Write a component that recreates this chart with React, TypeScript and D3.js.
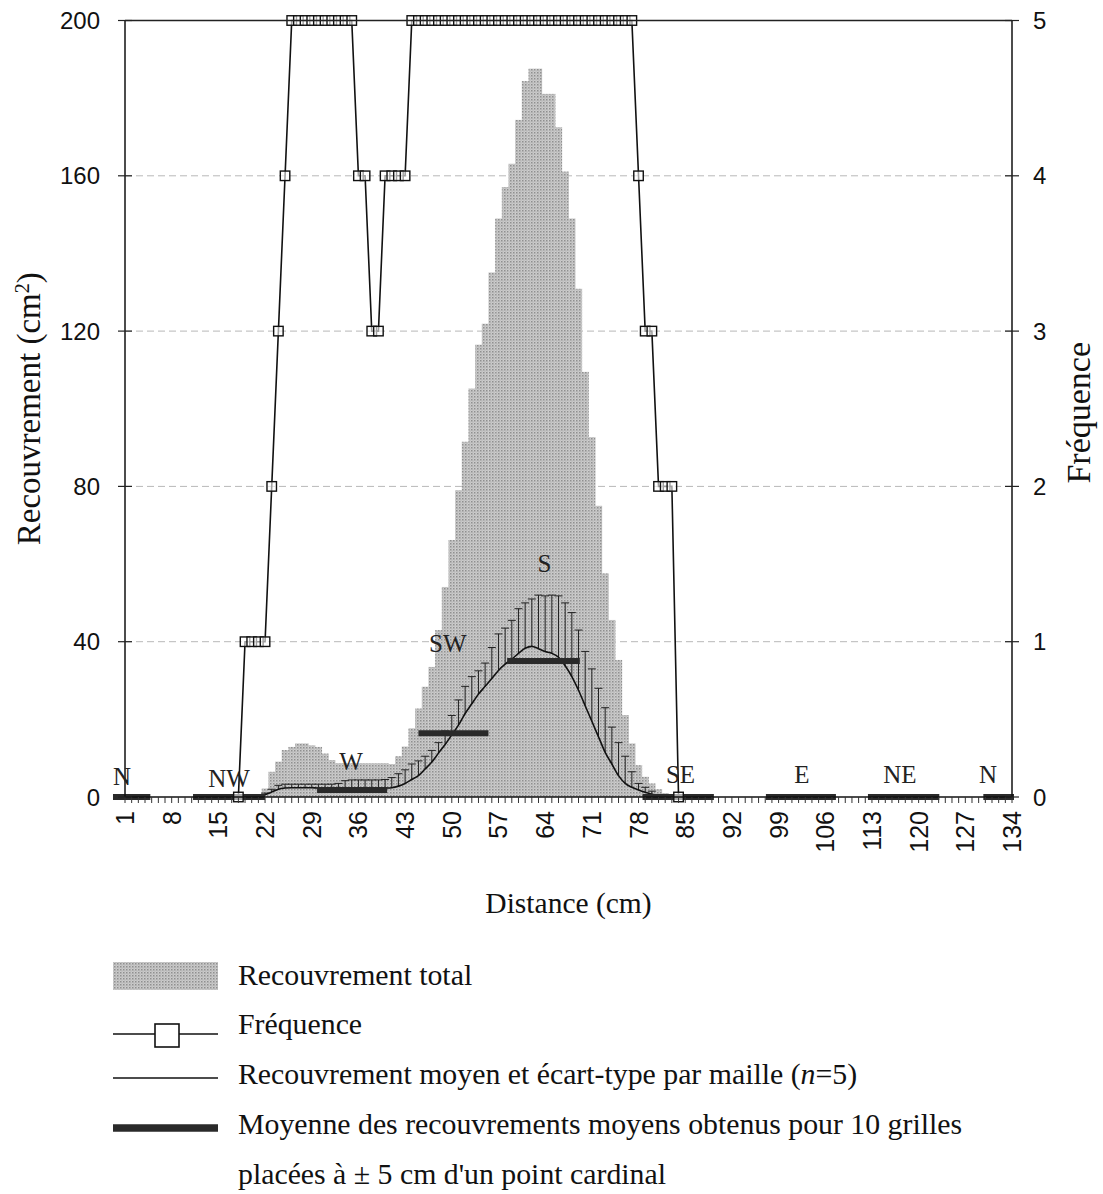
import React from "react";
import * as d3 from "d3";

// ---------- data ----------
const categories: number[] = d3.range(1, 135);
const xTickLabels = [1, 8, 15, 22, 29, 36, 43, 50, 57, 64, 71, 78, 85, 92, 99, 106, 113, 120, 127, 134];
const leftTicks = [0, 40, 80, 120, 160, 200];
const rightTicks = [0, 1, 2, 3, 4, 5];

// Recouvrement total (cm2), per cm, starting at cm 21
const totalStart = 21;
const totalCover = [
  0.5, 2.2, 6.5, 9.1, 12.1, 12.9, 13.8, 13.8, 13.3, 12.9, 11.2, 9.5,
  8.7, 8.7, 8.7, 8.7, 8.7, 8.7, 8.7, 8.7,
  8.5, 10.5, 13, 17.7, 22.8, 28.4, 33.5, 43, 54.1, 66.2, 79, 91.5, 105.2, 116.5, 121.9, 135.1, 149, 157.1, 163.1, 174.4, 184.4,
  187.6, 187.6, 181.1, 181.1, 172.5, 161.1, 149, 130.9, 109.5, 92.7, 75, 57.6, 45.6, 35.3, 21.1, 13.8, 8.2, 5.2, 3.5, 2, 1, 0.5,
];

// Recouvrement moyen par maille, starting at cm 20
const meanStart = 20;
const meanCover = [
  0, 0.2, 0.6, 1.3, 2.0, 2.3, 2.4, 2.4, 2.4, 2.4, 2.3, 2.3, 2.2, 2.2, 2.2, 2.2, 2.2, 2.2, 2.2, 2.2,
  2.3, 2.4, 2.8, 3.5, 4.5, 5.5, 7.2, 9, 11.3, 13.5, 16, 18.5, 21.5, 24, 26.5, 28.5, 30.5, 32.6, 34.2, 35.5, 37, 38.3,
  38.8, 38.2, 37.5, 37, 36, 33.8, 31, 27.5, 23.5, 19.5, 15.5, 11.5, 8.5, 5.5, 3.5, 2.5, 1.8, 1.2, 0.7, 0.3, 0,
];

// écart-type, starting at cm 22
const sdStart = 22;
const sdCover = [
  0.4, 0.7, 1.0, 1.0, 0.9, 0.9, 0.9, 0.9, 1.0, 1.0, 1.1, 1.3, 2.0, 2.2, 2.2, 2.2, 2.2, 2.2, 2.2,
  2.6, 3.2, 3.5, 4.0, 3.8, 3.3, 3.0, 2.7, 3.5, 5.0, 6.5, 7.0, 7.0, 6.0, 6.0, 8.0, 9.4, 9.3, 10.0, 11.5, 11.7,
  12.2, 13.8, 14.3, 15.0, 15.8, 16.2, 16.5, 15.5, 14.0, 13.5, 12.5, 11.5, 9.5, 8.5, 7.0, 4.0, 1.7, 1.3, 0.8,
];

// Fréquence (0-5), starting at cm 18
const freqStart = 18;
const frequency = [
  0, 1, 1, 1, 1, 2, 3, 4,
  5, 5, 5, 5, 5, 5, 5, 5, 5, 5,
  4, 4, 3, 3, 4, 4, 4, 4,
  5, 5, 5, 5, 5, 5, 5, 5, 5, 5, 5, 5, 5, 5, 5, 5, 5, 5, 5, 5, 5, 5, 5, 5, 5, 5, 5, 5, 5, 5, 5, 5, 5, 5,
  4, 3, 3, 2, 2, 2, 0,
];

// Moyenne des recouvrements moyens (10 grilles, ± 5 cm d'un point cardinal)
const gridSegStart = [-0.8, 11.2, 29.8, 45, 58.3, 78.6, 97.1, 112.4, 129.7];
const gridSegEnd = [4.8, 22, 40.3, 55.5, 69.2, 89.3, 107.6, 123.1, 134.3];
const gridSegMean = [0, 0, 1.8, 16.4, 35, 0, 0, 0, 0];

const cardinalNames = ["N", "NW", "W", "SW", "S", "SE", "E", "NE", "N"];
const cardinalLabelCat = [0.55, 16.6, 34.9, 49.4, 63.9, 84.3, 102.5, 117.2, 130.4];
const cardinalLabelValue = [3.1, 2.6, 6.9, 37.3, 57.9, 3.6, 3.6, 3.6, 3.6];

// ---------- layout ----------
const W = 1103;
const H = 1194;
const plotL = 125, plotR = 1012, plotT = 20.5, plotB = 797;
const SANS = "'Liberation Sans', Arial, sans-serif";
const SERIF = "'Liberation Serif', 'Times New Roman', serif";

export default function App() {
  const x = d3.scaleLinear().domain([1, 134]).range([plotL, plotR]);
  const yL = d3.scaleLinear().domain([0, 200]).range([plotB, plotT]);
  const yR = d3.scaleLinear().domain([0, 5]).range([plotB, plotT]);
  const step = x(2) - x(1);

  const bars = totalCover.map((v, i) => ({ c: totalStart + i, v }));
  const means = meanCover.map((v, i) => ({ c: meanStart + i, v }));
  const errs = sdCover.map((s, i) => {
    const c = sdStart + i;
    const m = meanCover[c - meanStart];
    return { c, m, top: m + s };
  });
  const freq = frequency.map((v, i) => ({ c: freqStart + i, v }));

  const meanLine = d3
    .line<{ c: number; v: number }>()
    .x((d) => x(d.c))
    .y((d) => yL(d.v))
    .curve(d3.curveMonotoneX)(means) as string;
  const freqLine = d3
    .line<{ c: number; v: number }>()
    .x((d) => x(d.c))
    .y((d) => yR(d.v))(freq) as string;

  const mk = 9.5;

  return (
    <svg width={W} height={H} style={{ position: "absolute", left: 0, top: 0, background: "#fff" }}>
      <defs>
        <pattern id="dither" width="3" height="3" patternUnits="userSpaceOnUse">
          <rect width="3" height="3" fill="#cbcbcb" />
          <rect width="1.5" height="1.5" fill="#8f8f8f" />
          <rect x="1.5" y="1.5" width="1" height="1" fill="#a4a4a4" />
        </pattern>
      </defs>

      {/* grid lines */}
      {leftTicks.filter((t) => t > 0 && t < 200).map((t) => (
        <line key={"g" + t} x1={plotL} x2={plotR} y1={yL(t)} y2={yL(t)} stroke="#b8b8b8" strokeWidth={1} strokeDasharray="7,4" />
      ))}

      {/* total cover bars */}
      {bars.map((d) => (
        <rect key={"b" + d.c} x={x(d.c) - step / 2} width={step + 0.3} y={yL(d.v)} height={plotB - yL(d.v)} fill="url(#dither)" />
      ))}

      {/* error bars */}
      {errs.map((d) => (
        <g key={"e" + d.c} stroke="#222" strokeWidth={1}>
          <line x1={x(d.c)} x2={x(d.c)} y1={yL(d.m)} y2={yL(d.top)} />
          <line x1={x(d.c) - 4} x2={x(d.c) + 4} y1={yL(d.top)} y2={yL(d.top)} />
        </g>
      ))}

      {/* mean line */}
      <path d={meanLine} fill="none" stroke="#111" strokeWidth={1.6} />

      {/* thick grid means */}
      {gridSegMean.map((v, i) => (
        <line key={"s" + i} x1={x(gridSegStart[i])} x2={x(gridSegEnd[i])} y1={yL(v)} y2={yL(v)} stroke="#2a2a2a" strokeWidth={6} />
      ))}

      {/* frequency */}
      <path d={freqLine} fill="none" stroke="#111" strokeWidth={1.6} />
      {freq.map((d) => (
        <rect key={"f" + d.c} x={x(d.c) - mk / 2} y={yR(d.v) - mk / 2} width={mk} height={mk} fill="#fff" fillOpacity={0.6} stroke="#111" strokeWidth={1.4} />
      ))}

      {/* frame / axes */}
      <line x1={plotL} x2={plotR} y1={plotT} y2={plotT} stroke="#222" strokeWidth={1.3} />
      <line x1={plotL} x2={plotL} y1={plotT} y2={plotB} stroke="#111" strokeWidth={1.5} />
      <line x1={plotR} x2={plotR} y1={plotT} y2={plotB} stroke="#111" strokeWidth={1.5} />
      <line x1={plotL} x2={plotR} y1={plotB} y2={plotB} stroke="#111" strokeWidth={1.5} />

      {/* x ticks */}
      {categories.map((c) => (
        <line key={"xt" + c} x1={x(c)} x2={x(c)} y1={plotB} y2={plotB + 6} stroke="#333" strokeWidth={1} />
      ))}
      {xTickLabels.map((c) => (
        <text key={"xl" + c} transform={`translate(${x(c) + 9},${plotB + 14}) rotate(-90)`} textAnchor="end" fontFamily={SANS} fontSize={25} fill="#111">
          {c}
        </text>
      ))}

      {/* left ticks */}
      {leftTicks.map((t) => (
        <g key={"lt" + t}>
          <line x1={plotL - 7} x2={plotL + 7} y1={yL(t)} y2={yL(t)} stroke="#222" strokeWidth={1.2} />
          <text x={plotL - 25} y={yL(t) + 8.5} textAnchor="end" fontFamily={SANS} fontSize={24} fill="#111">
            {t}
          </text>
        </g>
      ))}
      {/* right ticks */}
      {rightTicks.map((t) => (
        <g key={"rt" + t}>
          <line x1={plotR - 7} x2={plotR + 7} y1={yR(t)} y2={yR(t)} stroke="#222" strokeWidth={1.2} />
          <text x={plotR + 21} y={yR(t) + 8.5} textAnchor="start" fontFamily={SANS} fontSize={24} fill="#111">
            {t}
          </text>
        </g>
      ))}

      {/* cardinal labels */}
      {cardinalNames.map((n, i) => (
        <text key={"cn" + i} x={x(cardinalLabelCat[i])} y={yL(cardinalLabelValue[i])} textAnchor="middle" fontFamily={SERIF} fontSize={25} fill="#222">
          {n}
        </text>
      ))}

      {/* axis titles */}
      <text x={(plotL + plotR) / 2} y={913} textAnchor="middle" fontFamily={SERIF} fontSize={29.5} fill="#111">
        Distance (cm)
      </text>
      <text transform={`translate(40,${(plotT + plotB) / 2}) rotate(-90)`} textAnchor="middle" fontFamily={SERIF} fontSize={33} fill="#111">
        Recouvrement (cm
        <tspan baselineShift="super" fontSize={20}>2</tspan>
        <tspan>)</tspan>
      </text>
      <text transform={`translate(1090,${(plotT + plotB) / 2 + 4}) rotate(-90)`} textAnchor="middle" fontFamily={SERIF} fontSize={34} fill="#111">
        Fréquence
      </text>

      {/* legend */}
      <rect x={113} y={962} width={105} height={28} fill="url(#dither)" />
      <text x={238} y={985} fontFamily={SERIF} fontSize={29.8} fill="#111">Recouvrement total</text>

      <line x1={113} x2={218} y1={1034} y2={1034} stroke="#111" strokeWidth={1.6} />
      <rect x={155} y={1024} width={24} height={23} fill="#fff" stroke="#111" strokeWidth={1.6} />
      <text x={238} y={1034} fontFamily={SERIF} fontSize={29.8} fill="#111">Fréquence</text>

      <line x1={113} x2={218} y1={1078} y2={1078} stroke="#111" strokeWidth={1.4} />
      <text x={238} y={1084} fontFamily={SERIF} fontSize={29.8} fill="#111">
        Recouvrement moyen et écart-type par maille (<tspan fontStyle="italic">n</tspan>=5)
      </text>

      <line x1={113} x2={218} y1={1128} y2={1128} stroke="#2a2a2a" strokeWidth={7.5} />
      <text x={238} y={1134} fontFamily={SERIF} fontSize={29.8} fill="#111">
        Moyenne des recouvrements moyens obtenus pour 10 grilles
      </text>
      <text x={238} y={1184} fontFamily={SERIF} fontSize={29.8} fill="#111">
        placées à ± 5 cm d'un point cardinal
      </text>
    </svg>
  );
}
